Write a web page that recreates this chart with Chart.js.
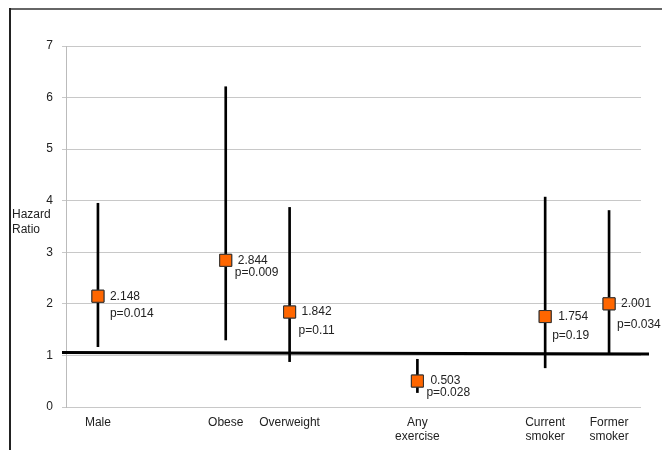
<!DOCTYPE html>
<html>
<head>
<meta charset="utf-8">
<script src="https://cdn.jsdelivr.net/npm/chart.js@4/dist/chart.umd.min.js"></script>
<style>
  html, body { margin: 0; padding: 0; background: #fff; }
  #wrap { width: 662px; height: 450px; }
</style>
</head>
<body>
<div id="wrap"><canvas id="c" width="662" height="450"></canvas></div>
<script>
// ---- data ----
const categories = ['Male', '', 'Obese', 'Overweight', '', ['Any', 'exercise'], '', ['Current', 'smoker'], ['Former', 'smoker']];
const hazardRatio = [2.148, null, 2.844, 1.842, null, 0.503, null, 1.754, 2.001];
const ciLower     = [1.17,  null, 1.30,  0.88,  null, 0.28,  null, 0.76,  1.04];
const ciUpper     = [3.95,  null, 6.21,  3.87,  null, 0.925, null, 4.07,  3.81];
const hrLabels    = ['2.148', '', '2.844', '1.842', '', '0.503', '', '1.754', '2.001'];
const pLabels     = ['p=0.014', '', 'p=0.009', 'p=0.11', '', 'p=0.028', '', 'p=0.19', 'p=0.034'];
const yTicks      = [0, 1, 2, 3, 4, 5, 6, 7];
const referenceLine = [1.055, 1.03]; // start / end value of the thick reference line
const yAxisTitle  = ['Hazard', 'Ratio'];

// ---- layout (label offsets relative to marker, px) ----
const labelOffsets = [
  [12, 0, 12, 17], null, [12, 0, 9, 12], [12, 0, 9, 19], null,
  [13, 0, 9, 12], null, [13, 0, 7, 19], [12, 0, 8, 21]
];

const FONT = '"Liberation Sans", Arial, sans-serif';

const ciData = ciLower.map((lo, i) => (lo == null ? null : [lo, ciUpper[i]]));

const decoPlugin = {
  id: 'deco',
  beforeDraw(chart) {
    const ctx = chart.ctx;
    ctx.save();
    ctx.fillStyle = '#fff';
    ctx.fillRect(0, 0, chart.width, chart.height);
    // frame
    ctx.strokeStyle = '#666';
    ctx.lineWidth = 2;
    ctx.beginPath(); ctx.moveTo(9, 9); ctx.lineTo(chart.width, 9); ctx.stroke();
    ctx.strokeStyle = '#222';
    ctx.beginPath(); ctx.moveTo(10, 8); ctx.lineTo(10, chart.height); ctx.stroke();
    // y axis title
    ctx.fillStyle = '#222';
    ctx.font = '12px ' + FONT;
    ctx.textAlign = 'left';
    ctx.textBaseline = 'middle';
    ctx.fillText(yAxisTitle[0], 12, 215);
    ctx.fillText(yAxisTitle[1], 12, 230);
    ctx.restore();
  },
  afterDatasetsDraw(chart) {
    const ctx = chart.ctx;
    const ys = chart.scales.y, xs = chart.scales.x;
    const area = chart.chartArea;
    ctx.save();
    // reference line
    ctx.strokeStyle = '#000';
    ctx.lineWidth = 3;
    ctx.beginPath();
    ctx.moveTo(area.left - 4, ys.getPixelForValue(referenceLine[0]));
    ctx.lineTo(area.right + 8, ys.getPixelForValue(referenceLine[1]));
    ctx.stroke();
    // redraw markers on top
    const meta = chart.getDatasetMeta(0);
    meta.data.forEach((pt, i) => {
      if (hazardRatio[i] == null) return;
      pt.draw(ctx, area);
    });
    // labels
    ctx.fillStyle = '#222';
    ctx.font = '12px ' + FONT;
    ctx.textAlign = 'left';
    ctx.textBaseline = 'middle';
    hazardRatio.forEach((v, i) => {
      if (v == null) return;
      const x = xs.getPixelForValue(i);
      const y = ys.getPixelForValue(v);
      const o = labelOffsets[i];
      ctx.fillText(hrLabels[i], x + o[0], y + o[1]);
      ctx.fillText(pLabels[i], x + o[2], y + o[3]);
    });
    ctx.restore();
  }
};

new Chart(document.getElementById('c'), {
  data: {
    labels: categories,
    datasets: [
      {
        type: 'line',
        data: hazardRatio,
        showLine: false,
        pointStyle: 'rect',
        pointRadius: 8.5,
        pointHoverRadius: 8.5,
        pointBackgroundColor: '#FF6600',
        pointBorderColor: '#333',
        pointBorderWidth: 1,
        order: 0
      },
      {
        type: 'bar',
        data: ciData,
        backgroundColor: '#000',
        borderWidth: 0,
        barThickness: 2,
        order: 1
      }
    ]
  },
  options: {
    responsive: false,
    animation: false,
    devicePixelRatio: 1,
    layout: { padding: { top: 46, right: 21, left: 0, bottom: 0 } },
    plugins: { legend: { display: false }, tooltip: { enabled: false } },
    scales: {
      x: {
        type: 'category',
        offset: true,
        grid: { display: false, drawTicks: false },
        border: { display: false },
        ticks: {
          padding: 8,
          color: '#222',
          font: { family: FONT, size: 12 },
          maxRotation: 0,
          autoSkip: false
        },
        afterFit(s) { s.height = 43; }
      },
      y: {
        min: 0,
        max: 7,
        afterBuildTicks(s) { s.ticks = yTicks.map(v => ({ value: v })); },
        grid: { color: '#c8c8c8', lineWidth: 1, tickLength: 4 },
        border: { color: '#bbb' },
        ticks: {
          padding: 9,
          color: '#222',
          font: { family: FONT, size: 12 }
        },
        afterFit(s) { s.width = 66; }
      }
    }
  },
  plugins: [decoPlugin]
});
</script>
</body>
</html>
